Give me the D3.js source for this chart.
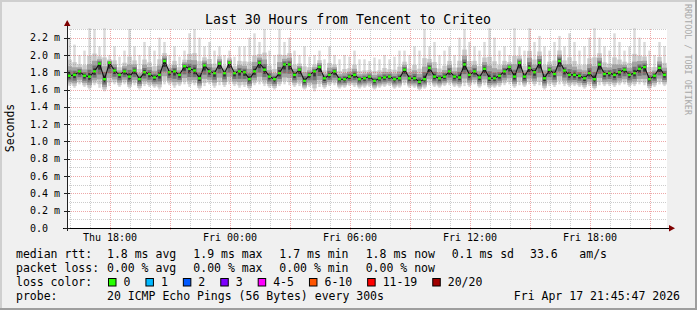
<!DOCTYPE html>
<html>
<head>
<meta charset="utf-8">
<script src="https://cdn.jsdelivr.net/npm/d3@7"></script>
<style>
  body { margin: 0; background: #f0f0f0; }
  svg { display: block; font-family: "DejaVu Sans Mono", monospace; }
</style>
</head>
<body>
<script>
// median rtt per 15 min step (ms), Thu 15:51 -> Fri 21:51
var medianRtt = [
  1.76,1.77,1.81,1.76,1.75,1.81,1.90,1.72,1.91,1.82,
  1.77,1.81,1.75,1.82,1.72,1.80,1.78,1.74,1.77,1.93,
  1.80,1.81,1.77,1.87,1.84,1.82,1.73,1.88,1.81,1.79,
  1.90,1.79,1.91,1.79,1.81,1.80,1.72,1.81,1.91,1.83,
  1.75,1.72,1.79,1.89,1.89,1.77,1.83,1.70,1.77,1.81,
  1.86,1.73,1.77,1.81,1.72,1.72,1.75,1.77,1.72,1.73,
  1.75,1.70,1.73,1.74,1.75,1.72,1.73,1.83,1.73,1.73,
  1.69,1.72,1.85,1.75,1.73,1.75,1.81,1.75,1.74,1.89,
  1.77,1.81,1.74,1.84,1.73,1.73,1.76,1.81,1.86,1.75,
  1.91,1.75,1.85,1.80,1.91,1.73,1.83,1.78,1.93,1.82,
  1.77,1.77,1.76,1.73,1.79,1.72,1.89,1.78,1.79,1.77,
  1.80,1.83,1.77,1.79,1.84,1.86,1.72,1.76,1.85,1.77
];
// fastest ping per step (ms)
var smokeLow = [
  1.64,1.62,1.66,1.63,1.60,1.65,1.62,1.58,1.64,1.66,
  1.63,1.66,1.61,1.65,1.60,1.64,1.63,1.62,1.60,1.66,
  1.65,1.62,1.64,1.66,1.63,1.65,1.60,1.64,1.66,1.62,
  1.65,1.63,1.66,1.64,1.62,1.63,1.60,1.65,1.66,1.64,
  1.62,1.60,1.64,1.66,1.65,1.63,1.64,1.60,1.63,1.58,
  1.63,1.61,1.64,1.65,1.61,1.62,1.64,1.63,1.61,1.62,
  1.63,1.60,1.62,1.63,1.64,1.61,1.62,1.65,1.62,1.62,
  1.59,1.61,1.65,1.63,1.62,1.64,1.65,1.63,1.62,1.64,
  1.63,1.66,1.62,1.65,1.61,1.62,1.63,1.65,1.66,1.62,
  1.65,1.63,1.66,1.64,1.65,1.60,1.64,1.63,1.66,1.64,
  1.63,1.64,1.63,1.61,1.64,1.60,1.65,1.64,1.64,1.63,
  1.65,1.66,1.63,1.64,1.66,1.65,1.60,1.63,1.66,1.64
];
// slowest ping per step (ms)
var smokeHigh = [
  2.20,2.12,2.00,2.05,2.32,2.30,2.10,2.32,2.00,2.10,
  1.98,2.05,2.30,2.10,2.00,2.15,2.10,2.05,2.20,2.15,
  2.00,2.10,1.98,2.05,2.25,2.30,2.20,2.10,2.15,2.05,
  2.10,2.00,2.05,1.98,2.10,2.10,2.20,2.25,2.15,2.30,
  2.05,2.00,2.30,2.15,2.20,2.05,2.00,2.10,1.98,2.00,
  2.05,1.95,2.10,2.00,1.95,2.00,1.98,2.05,1.95,1.95,
  1.93,1.97,1.95,2.00,1.95,1.98,2.05,2.05,2.00,2.10,
  2.05,2.30,2.10,2.15,2.00,2.05,2.10,2.00,2.20,2.30,
  2.15,2.10,2.05,2.15,2.32,2.20,2.05,2.10,2.00,2.32,
  2.10,2.05,2.32,2.15,2.22,2.10,2.05,2.15,2.22,2.10,
  2.25,2.15,2.05,2.10,2.20,2.32,2.20,2.10,2.05,2.25,
  2.15,2.05,2.10,2.32,2.20,2.15,2.05,2.00,2.15,2.10
];

var yTicks = [0, 0.2, 0.4, 0.6, 0.8, 1.0, 1.2, 1.4, 1.6, 1.8, 2.0, 2.2];
var yTickLabels = ["0.0", "0.2 m", "0.4 m", "0.6 m", "0.8 m", "1.0 m", "1.2 m", "1.4 m", "1.6 m", "1.8 m", "2.0 m", "2.2 m"];
var xTicks = ["2026-04-16T18:00", "2026-04-17T00:00", "2026-04-17T06:00", "2026-04-17T12:00", "2026-04-17T18:00"];
var xTickLabels = ["Thu 18:00", "Fri 00:00", "Fri 06:00", "Fri 12:00", "Fri 18:00"];

var medianStats = ["1.8 ms avg", "1.9 ms max", "1.7 ms min", "1.8 ms now", "0.1 ms sd", "33.6", "am/s"];
var lossStats = ["0.00 % avg", "0.00 % max", "0.00 % min", "0.00 % now"];
var lossLabels = ["0", "1", "2", "3", "4-5", "6-10", "11-19", "20/20"];
var lossColors = ["#26ff00", "#00b8ff", "#0059ff", "#7e00ff", "#ff00ff", "#ff5500", "#ff0000", "#a10000"];
var probeText = "20 ICMP Echo Pings (56 Bytes) every 300s";
var stampText = "Fri Apr 17 21:45:47 2026";

var W = 697, H = 310;
var pLeft = 67, pRight = 667, pTop = 29, pBottom = 228;
var stepMs = 15 * 60 * 1000;
var start = new Date(2026, 3, 16, 15, 51);
var end = new Date(start.getTime() + 30 * 3600 * 1000);

var svg = d3.select("body").append("svg").attr("width", W).attr("height", H);

// frame
svg.append("rect").attr("width", W).attr("height", H).attr("fill", "#f0f0f0");
svg.append("path").attr("d", "M0,1H" + (W - 1) + "M1,0V" + (H - 1)).attr("stroke", "#cfcfcf").attr("stroke-width", 2);
svg.append("path").attr("d", "M0," + (H - 1) + "H" + W + "M" + (W - 1) + ",0V" + H).attr("stroke", "#9e9e9e").attr("stroke-width", 2);

var x = d3.scaleTime().domain([start, end]).range([pLeft, pRight]);
var y = d3.scaleLinear().domain([0, 2.3]).range([pBottom, pTop]);

svg.append("rect").attr("x", pLeft).attr("y", pTop).attr("width", pRight - pLeft).attr("height", pBottom - pTop).attr("fill", "#fff");

svg.append("clipPath").attr("id", "clip").append("rect")
  .attr("x", pLeft).attr("y", pTop - 1).attr("width", pRight - pLeft).attr("height", pBottom - pTop + 1);

var plot = svg.append("g").attr("clip-path", "url(#clip)");

var steps = medianRtt.map(function(m, i) {
  var t0 = new Date(start.getTime() + i * stepMs);
  var t1 = new Date(start.getTime() + (i + 1) * stepMs);
  return {t0: t0, t1: t1, med: m, lo: smokeLow[i], hi: smokeHigh[i]};
});

// smoke: nested bands, darker toward the median
var bands = [
  {f: 1.0, g: 1.0, c: "#d9d9d9", inset: 1.3},
  {f: 0.85, g: 0.42, c: "#c6c6c6", inset: 0.3},
  {f: 0.65, g: 0.25, c: "#a4a4a4", inset: 0},
  {f: 0.45, g: 0.14, c: "#747474", inset: 0.4},
  {f: 0.25, g: 0.07, c: "#333333", inset: 1.2}
];
bands.forEach(function(b) {
  plot.append("g").selectAll("rect").data(steps).enter().append("rect")
    .attr("x", function(d) { return x(d.t0) + b.inset; })
    .attr("width", function(d) { return x(d.t1) - x(d.t0) - 2 * b.inset; })
    .attr("y", function(d) { return y(d.med + (d.hi - d.med) * b.g); })
    .attr("height", function(d) { return y(d.med - (d.med - d.lo) * b.f) - y(d.med + (d.hi - d.med) * b.g); })
    .attr("fill", b.c);
});

// median
var medLine = d3.line()
  .x(function(d) { return x(d.t0) + 2.5; })
  .y(function(d) { return y(d.med); });
plot.append("path").datum(steps).attr("d", medLine)
  .attr("fill", "none").attr("stroke", "#111").attr("stroke-width", 1.1);
plot.append("g").selectAll("rect").data(steps).enter().append("rect")
  .attr("x", function(d) { return x(d.t0) + 1; })
  .attr("y", function(d) { return y(d.med) - 1.2; })
  .attr("width", 3).attr("height", 2.4)
  .attr("fill", lossColors[0]);

// grid
var grid = svg.append("g").attr("shape-rendering", "crispEdges").attr("stroke-dasharray", "1,1");
var minorY = d3.range(1, 24, 2).map(function(k) { return k / 10; });
var majorY = yTicks.filter(function(v) { return v > 0; });
grid.selectAll(".hmin").data(minorY).enter().append("line")
  .attr("x1", pLeft).attr("x2", pRight)
  .attr("y1", function(v) { return Math.round(y(v)) + 0.5; }).attr("y2", function(v) { return Math.round(y(v)) + 0.5; })
  .attr("stroke", "rgba(143,143,143,0.45)");
var hours = d3.timeHour.range(d3.timeHour.ceil(start), end);
grid.selectAll(".vmin").data(hours.filter(function(h) { return h.getHours() % 3 !== 0; })).enter().append("line")
  .attr("y1", pTop).attr("y2", pBottom)
  .attr("x1", function(h) { return Math.round(x(h)) + 0.5; }).attr("x2", function(h) { return Math.round(x(h)) + 0.5; })
  .attr("stroke", "rgba(143,143,143,0.45)");
grid.selectAll(".hmaj").data(majorY).enter().append("line")
  .attr("x1", pLeft).attr("x2", pRight)
  .attr("y1", function(v) { return Math.round(y(v)) + 0.5; }).attr("y2", function(v) { return Math.round(y(v)) + 0.5; })
  .attr("stroke", "rgba(222,81,81,0.5)");
grid.selectAll(".vmaj").data(hours.filter(function(h) { return h.getHours() % 3 === 0; })).enter().append("line")
  .attr("y1", pTop).attr("y2", pBottom + 2)
  .attr("x1", function(h) { return Math.round(x(h)) + 0.5; }).attr("x2", function(h) { return Math.round(x(h)) + 0.5; })
  .attr("stroke", "rgba(222,81,81,0.5)");

// axes
var ax = svg.append("g").attr("shape-rendering", "crispEdges");
ax.append("line").attr("x1", pLeft + 0.5).attr("x2", pLeft + 0.5).attr("y1", pTop - 4).attr("y2", pBottom + 3).attr("stroke", "#222");
ax.append("line").attr("x1", pLeft - 4).attr("x2", pRight + 2).attr("y1", pBottom + 0.5).attr("y2", pBottom + 0.5).attr("stroke", "#000");
ax.selectAll(".yt").data(yTicks).enter().append("line")
  .attr("x1", pLeft - 3).attr("x2", pLeft + 3)
  .attr("y1", function(v) { return Math.round(y(v)) + 0.5; }).attr("y2", function(v) { return Math.round(y(v)) + 0.5; })
  .attr("stroke", "#222");
svg.append("path").attr("d", "M64,26L70.5,26L67.2,20Z").attr("fill", "#7f0000");
svg.append("path").attr("d", "M669,225L669,231.5L675,228.2Z").attr("fill", "#7f0000");

// tick labels
svg.append("g").selectAll("text").data(yTicks).enter().append("text")
  .attr("x", 30).attr("y", function(v) { return y(v) + 3.6; })
  .attr("font-size", 10).attr("fill", "#000")
  .text(function(v, i) { return yTickLabels[i]; });
svg.append("g").selectAll("text").data(xTicks).enter().append("text")
  .attr("x", function(t) { return x(new Date(t)); }).attr("y", 241)
  .attr("text-anchor", "middle").attr("font-size", 10).attr("fill", "#000")
  .text(function(t, i) { return xTickLabels[i]; });

// titles
svg.append("text").attr("x", 348).attr("y", 23.5).attr("text-anchor", "middle")
  .attr("font-size", 13.2).attr("fill", "#000").text("Last 30 Hours from Tencent to Criteo");
svg.append("text").attr("transform", "translate(14,128) rotate(-90)").attr("text-anchor", "middle")
  .attr("font-size", 11.5).attr("fill", "#000").text("Seconds");
svg.append("text").attr("transform", "translate(685,4) rotate(90)")
  .attr("font-size", 8.4).attr("fill", "#a8a8a8").text("RRDTOOL / TOBI OETIKER");

// legend
var fs = 11.5, cw = fs * 0.602;
var leg = svg.append("g").attr("font-size", fs).attr("fill", "#000");
var statX = [107, 193.3, 279.3, 365.7, 451.7, 530, 579.3];
leg.append("text").attr("x", 16).attr("y", 258).text("median rtt:");
medianStats.forEach(function(s, i) { leg.append("text").attr("x", statX[i]).attr("y", 258).text(s); });
leg.append("text").attr("x", 16).attr("y", 272).text("packet loss:");
lossStats.forEach(function(s, i) { leg.append("text").attr("x", statX[i]).attr("y", 272).text(s); });
leg.append("text").attr("x", 16).attr("y", 286).text("loss color:");
var bx = 108.5;
lossLabels.forEach(function(l, i) {
  leg.append("rect").attr("x", bx).attr("y", 278.5).attr("width", 7.5).attr("height", 7.5)
    .attr("fill", lossColors[i]).attr("stroke", "#000").attr("stroke-width", 1);
  leg.append("text").attr("x", bx + 15).attr("y", 286).text(l);
  bx = bx + 15 + l.length * cw + 15.5;
});
leg.append("text").attr("x", 16).attr("y", 300).text("probe:");
leg.append("text").attr("x", 107).attr("y", 300).text(probeText);
leg.append("text").attr("x", 680).attr("y", 300).attr("text-anchor", "end").text(stampText);
</script>
</body>
</html>
